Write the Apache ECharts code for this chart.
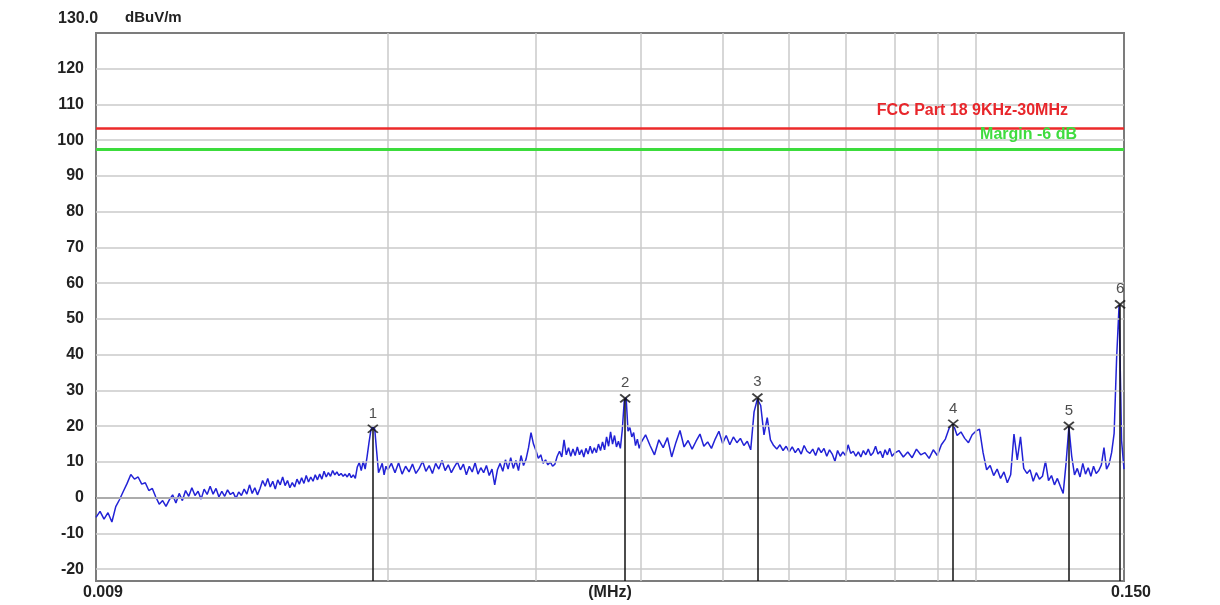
<!DOCTYPE html>
<html>
<head>
<meta charset="utf-8">
<title>EMI scan</title>
<script src="https://cdn.jsdelivr.net/npm/echarts@6/dist/echarts.min.js"></script>
<style>
  html, body { margin: 0; padding: 0; background: #ffffff; }
  #chart { width: 1220px; height: 605px; }
</style>
</head>
<body>
<div id="chart"></div>
<script>
// ---- Data ----
// Sweep segments: start frequency (kHz), step (kHz) and measured levels (dBuV/m)
const segALevels = [-5.5,-3.8,-6.0,-4.2,-6.8,-2.5,-0.5,1.8,4.0,6.5,
  5.2,5.8,3.8,4.2,2.0,2.6,0.2,-1.8,-0.8,-2.4,
  -0.6,0.8,-1.5,1.2,-0.8,2.0,0.4,2.8,0.6,1.8,
  -0.4,2.4,0.9,3.2,1.0,2.6,0.2,1.8,0.4,2.2,
  0.9,1.5,-0.2,1.6,0.6,2.4,1.0,3.6,1.2,2.8,
  0.8,2.6,4.8,3.2,5.4,3.0,4.6,2.4,5.0,3.6,
  5.8,3.4,4.8,2.8,4.2,3.0,5.2,3.8,5.6,4.0,
  6.2,4.4,5.8,4.6,6.4,5.0,6.6,5.2,7.4,5.8,
  7.0,6.0,7.6,6.4,7.2,6.2,6.8,6.0,6.6,5.8,
  6.8,5.6,6.4,5.4,8.6,9.8,7.6,10.2,8.0,11.5,
  15.5,19.0,19.8,19.2,13.0,7.0,7.2,9.6,6.4,8.8,
  7.8];
const segBLevels = [9.6,7.0,9.8,6.6,8.8,7.2,9.4,6.8,8.2,10.2,
  7.4,9.0,6.8,9.6,8.0,10.4,7.6,9.2,7.0,8.6,
  10.0,7.8,9.4,6.4,8.8,7.2,9.8,6.6,8.4,7.0,
  9.0,6.2,8.0,3.6,7.8,9.6,7.4,10.6,8.0,11.2,
  8.2,10.4,7.6,11.8,9.0,10.8,14.0,18.2,15.0,13.2,
  11.0,12.0,9.6,10.6,9.2,10.0,8.8,9.4,11.6,13.0,
  11.4,16.2,12.0,14.0,11.6,13.6,11.8,14.2,12.0,13.4,
  11.4,13.8,12.2,14.4,12.4,14.0,12.6,15.0,13.2,15.6,
  13.4,17.0,14.4,18.4,15.0,17.4,14.2,15.8,13.8,19.0,
  27.0,28.0,18.6,19.6,17.0,18.2,14.6,16.4,13.8,15.4];
const segCLevels = [17.6,14.6,12.0,16.2,14.0,16.8,11.4,15.4,18.8,14.2,
  16.0,13.6,15.8,17.8,14.4,15.6,13.8,16.4,18.6,15.2,
  17.4,14.8,17.0,15.4,16.6,14.6,15.8,13.4,24.0,27.6,
  25.8,17.6,22.4,16.2,14.6,13.6,14.8,13.2,14.4,12.8,
  14.2,12.6,13.8,12.2,14.6,13.0,12.4,13.6,11.8,14.0,
  12.6,13.8,11.6,13.4,12.2,10.2,13.2,11.6,12.8,11.8,
  14.8,12.4,13.0,11.6,12.8,11.4,13.2,12.0,13.6,11.8,
  12.6,14.4,12.2,13.0,11.2,13.4,12.0,13.8,11.6,12.4];
const segDLevels = [13.2,11.4,12.8,11.2,13.6,12.0,12.6,11.0,13.4,11.8,
  14.8,16.4,19.6,20.6,17.4,18.4,16.6,15.4,17.6,18.6,
  19.2,12.6,7.8,9.0,6.2,8.0,5.4,7.2,4.2,6.4,
  17.8,10.6,17.0,8.2,6.8,7.8,4.6,7.0,5.2,6.0,
  10.2,4.8,6.2,3.6,5.4,3.2,1.2,9.6,19.8,11.6,
  6.4,8.2,5.8,9.6,6.6,8.4,6.0,8.8,6.8,7.6,
  9.2,14.0,8.0,9.4,12.6,18.0,39.0,54.0,16.0,8.0];
const sweepStartKHz = [9.0, 20.2, 40.5, 81.0];
const sweepStepKHz = [0.1, 0.2, 0.5, 1.0];

// Markers
const markerNames = ['1', '2', '3', '4', '5', '6'];
const markerFreqMHz = [0.0192, 0.0383, 0.0550, 0.0940, 0.1290, 0.1484];
const markerLevel = [19.3, 27.8, 28.0, 20.7, 20.1, 54.1];

// Limit lines
const limitLevel = 103.4;
const marginLevel = 97.4;
const limitName = 'FCC Part 18 9KHz-30MHz';
const marginName = 'Margin -6 dB';

// Axes
const yMin = -23.3, yMax = 130;
const yTicks = [-20, -10, 0, 10, 20, 30, 40, 50, 60, 70, 80, 90, 100, 110, 120];
const xMinMHz = 0.009, xMaxMHz = 0.150;
const xGridMHz = [0.02, 0.03, 0.04, 0.05, 0.06, 0.07, 0.08, 0.09, 0.10];
const xTickLabels = ['0.009', '(MHz)', '0.150'];

// ---- Build ----
const segs = [segALevels, segBLevels, segCLevels, segDLevels];
const traceData = [];
segs.forEach((lv, s) => {
  lv.forEach((v, i) => {
    const fk = +(sweepStartKHz[s] + i * sweepStepKHz[s]).toFixed(2);
    traceData.push([fk / 1000, v]);
  });
});

const FONT = 'Liberation Sans, Arial, sans-serif';
const chart = echarts.init(document.getElementById('chart'), null, { renderer: 'canvas' });

const option = {
  animation: false,
  backgroundColor: '#ffffff',
  grid: {
    left: 96, right: 96, top: 33, bottom: 24,
    outerBoundsMode: 'none', containLabel: false,
    show: true, borderColor: '#7c7c7c', borderWidth: 2, backgroundColor: '#ffffff'
  },
  graphic: [
    { type: 'text', left: 58, top: 11, style: { text: '130.0', font: 'bold 16px ' + FONT, fill: '#222' } },
    { type: 'text', left: 125, top: 10, style: { text: 'dBuV/m', font: 'bold 15px ' + FONT, fill: '#222' } }
  ],
  xAxis: [
    {
      type: 'log', logBase: 10, min: xMinMHz, max: xMaxMHz,
      axisLine: { show: true, lineStyle: { color: '#555', width: 2 } },
      axisTick: { show: false }, axisLabel: { show: false },
      splitLine: { show: false }, minorTick: { show: false }, minorSplitLine: { show: false }
    },
    {
      // label axis: 0.009 at the left end, unit in the middle, 0.150 at the right end
      type: 'value', min: 0, max: 2, interval: 1, position: 'bottom',
      axisLine: { show: false }, axisTick: { show: false }, splitLine: { show: false },
      axisLabel: {
        formatter: (v) => xTickLabels[v] || '',
        fontFamily: FONT, fontWeight: 'bold', fontSize: 16, color: '#222', margin: 4,
        rich: {
          e: { fontFamily: FONT, fontWeight: 'bold', fontSize: 16, color: '#222', padding: [0, 0, 0, 14] }
        }
      }
    }
  ],
  yAxis: {
    type: 'value', min: yMin, max: yMax,
    axisLine: { show: false }, axisTick: { show: false }, splitLine: { show: false },
    axisLabel: {
      customValues: yTicks,
      fontFamily: FONT, fontWeight: 'bold', fontSize: 16, color: '#222', margin: 12
    }
  },
  series: [
    {
      name: 'grid', type: 'line', data: [], z: 1, silent: true,
      markLine: {
        silent: true, symbol: 'none', animation: false,
        label: { show: false },
        lineStyle: { color: '#cacaca', width: 1.5, type: 'solid' },
        data: [
          ...yTicks.map(v => ({ yAxis: v })),
          ...xGridMHz.map(v => ({ xAxis: v }))
        ]
      }
    },
    {
      name: 'limits', type: 'line', data: [], z: 2, silent: true,
      markLine: {
        silent: true, symbol: 'none', animation: false,
        label: { show: true, position: 'insideEndTop', distance: 0, fontFamily: FONT, fontWeight: 'bold', fontSize: 16 },
        data: [
          { yAxis: limitLevel, lineStyle: { color: '#ec2a2a', width: 2.5, type: 'solid' },
            label: { formatter: limitName, color: '#e8262b', padding: [0, 56, 9, 0] } },
          { yAxis: marginLevel, lineStyle: { color: '#3cdc3c', width: 3, type: 'solid' },
            label: { formatter: marginName, color: '#3fdc3f', padding: [0, 47, 7, 0] } }
        ]
      }
    },
    {
      name: 'trace', type: 'line', data: traceData, z: 3,
      showSymbol: false, symbol: 'none', sampling: null,
      lineStyle: { color: '#2222d6', width: 1.5 }
    },
    {
      name: 'markers', type: 'scatter', z: 5,
      data: markerFreqMHz.map((f, i) => ({ name: markerNames[i], value: [f, markerLevel[i]] })),
      symbol: 'path://M0,0L10,8M10,0L0,8', symbolSize: [10, 8],
      itemStyle: { color: 'rgba(0,0,0,0)', borderColor: '#111', borderWidth: 1.8 },
      label: { show: true, position: 'top', distance: 3, formatter: '{b}', fontFamily: FONT, fontSize: 15, color: '#222' },
      markLine: {
        silent: true, symbol: 'none', animation: false,
        label: { show: false },
        lineStyle: { color: '#111', width: 1.5, type: 'solid' },
        data: markerFreqMHz.map((f, i) => [{ coord: [f, markerLevel[i]] }, { coord: [f, yMin] }])
      }
    }
  ]
};
// shift the end labels slightly right as in the reference; keep the unit label centred
option.xAxis[1].axisLabel.formatter = (v) => (v === 1 ? xTickLabels[v] : '{e|' + (xTickLabels[v] || '') + '}');
chart.setOption(option);
</script>
</body>
</html>
